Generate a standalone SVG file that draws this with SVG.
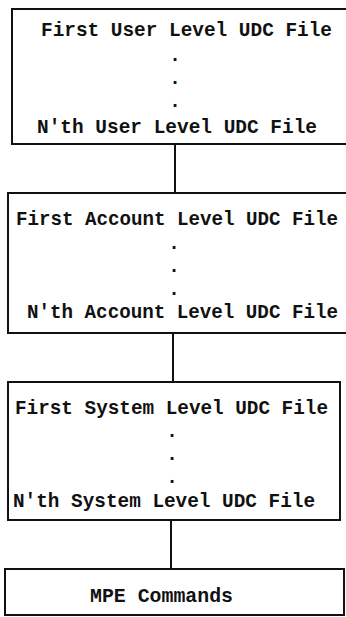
<svg xmlns="http://www.w3.org/2000/svg" width="346" height="617" viewBox="0 0 346 617">
<style>
.box{fill:#fff;stroke:#111;stroke-width:2}
.t{font-family:"Liberation Mono","Courier New",monospace;font-weight:bold;font-size:19.3px;fill:#111}
.d{font-family:"Liberation Mono","Courier New",monospace;font-weight:bold;font-size:19.3px;fill:#111;text-anchor:middle}
.c{stroke:#111;stroke-width:2;fill:none}
</style>
<rect width="346" height="617" fill="#fff"/>
<g id="connectors">
<line class="c" x1="175" y1="144" x2="175" y2="193"/>
<line class="c" x1="173" y1="333" x2="173" y2="382"/>
<line class="c" x1="171" y1="520" x2="171" y2="569"/>
</g>
<g id="user-level">
<rect class="box" x="12" y="9" width="345" height="135"/>
<text class="t" x="41" y="36" textLength="291" lengthAdjust="spacingAndGlyphs">First User Level UDC File</text>
<text class="d" x="175" y="61">.</text>
<text class="d" x="175" y="84">.</text>
<text class="d" x="175" y="107">.</text>
<text class="t" x="37" y="133" textLength="280" lengthAdjust="spacingAndGlyphs">N'th User Level UDC File</text>
</g>
<g id="account-level">
<rect class="box" x="8" y="193" width="349" height="140"/>
<text class="t" x="16" y="225" textLength="322" lengthAdjust="spacingAndGlyphs">First Account Level UDC File</text>
<text class="d" x="174" y="249">.</text>
<text class="d" x="174" y="272">.</text>
<text class="d" x="174" y="295">.</text>
<text class="t" x="27" y="318" textLength="311" lengthAdjust="spacingAndGlyphs">N'th Account Level UDC File</text>
</g>
<g id="system-level">
<rect class="box" x="8" y="382" width="332" height="138"/>
<text class="t" x="15" y="414" textLength="313" lengthAdjust="spacingAndGlyphs">First System Level UDC File</text>
<text class="d" x="172" y="437">.</text>
<text class="d" x="172" y="460">.</text>
<text class="d" x="172" y="483">.</text>
<text class="t" x="13" y="507" textLength="302" lengthAdjust="spacingAndGlyphs">N'th System Level UDC File</text>
</g>
<g id="mpe-commands">
<rect class="box" x="5" y="569" width="339" height="46"/>
<text class="t" x="90" y="602" textLength="143" lengthAdjust="spacingAndGlyphs">MPE Commands</text>
</g>
</svg>
